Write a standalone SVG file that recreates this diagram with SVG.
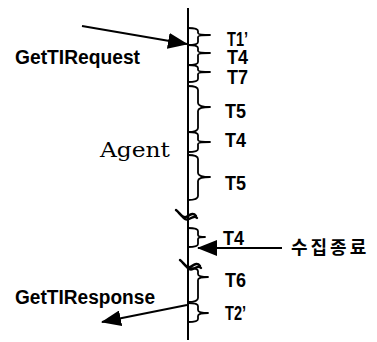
<svg xmlns="http://www.w3.org/2000/svg" width="377" height="342" viewBox="0 0 377 342">
<defs>
<style>
.ln{stroke:#000;stroke-width:2;fill:none}
.br{stroke:#000;stroke-width:1.8;fill:none;stroke-linejoin:round}
.brk{stroke:#000;stroke-width:2.4;fill:none;stroke-linecap:round}
.t{font-family:"Liberation Sans",Arial,sans-serif;font-weight:bold;font-size:20px;fill:#000}
.lbl{font-family:"Liberation Sans",Arial,sans-serif;font-weight:bold;fill:#000}
.ag{font-family:"DejaVu Serif","Liberation Serif",serif;font-size:20px;fill:#000}
.kr{font-family:"Noto Sans CJK KR",sans-serif;font-weight:bold;font-size:18px;letter-spacing:3px;fill:#000}
</style>
<marker id="ah" viewBox="0 0 20 16" refX="19" refY="8" markerWidth="20" markerHeight="16" markerUnits="userSpaceOnUse" orient="auto">
<path d="M0,0 L20,8 L0,16 Z" fill="#000"/>
</marker>
</defs>
<rect width="377" height="342" fill="#fff"/>

<g id="agent">
<line class="ln" x1="188" y1="8" x2="188" y2="340"/>
<text class="ag" x="100" y="157" textLength="70" lengthAdjust="spacingAndGlyphs">Agent</text>
<path class="brk" d="M176,210 C180,213 182,218 186,217 C190,215 193,212 196,216"/>
<path class="brk" d="M179,213 C183,217 185,221 189,219 C193,217 195,216 197,218"/>
<path class="brk" d="M180,260 C184,263 186,268 190,267 C194,265 197,262 200,266"/>
<path class="brk" d="M183,263 C187,267 189,271 193,269 C197,267 199,266 201,268"/>
</g>

<g id="t1">
<path class="br" d="M188,28 Q198,28 198,31 L198,33 Q198,35 210,35 Q198,35 198,37 L198,42 Q198,45 188,45"/>
<text class="t" x="227" y="46" textLength="21" lengthAdjust="spacingAndGlyphs">T1’</text>
</g>
<g id="t4a">
<path class="br" d="M188,45 Q198,45 198,48 L198,51 Q198,53 210,53 Q198,53 198,55 L198,62 Q198,65 188,65"/>
<text class="t" x="227" y="64" textLength="21" lengthAdjust="spacingAndGlyphs">T4</text>
</g>
<g id="t7">
<path class="br" d="M188,65 Q198,65 198,68 L198,70 Q198,72 210,72 Q198,72 198,74 L198,79 Q198,82 188,82"/>
<text class="t" x="227" y="84" textLength="21" lengthAdjust="spacingAndGlyphs">T7</text>
</g>
<g id="t5a">
<path class="br" d="M188,86 Q198,86 198,90 L198,103 Q198,107 210,107 Q198,107 198,111 L198,128 Q198,132 188,132"/>
<text class="t" x="225" y="118" textLength="21" lengthAdjust="spacingAndGlyphs">T5</text>
</g>
<g id="t4b">
<path class="br" d="M188,132 Q198,132 198,135 L198,140 Q198,142 210,142 Q198,142 198,144 L198,149 Q198,152 188,152"/>
<text class="t" x="225" y="147" textLength="21" lengthAdjust="spacingAndGlyphs">T4</text>
</g>
<g id="t5b">
<path class="br" d="M188,155 Q198,155 198,159 L198,173 Q198,177 210,177 Q198,177 198,181 L198,196 Q198,200 188,200"/>
<text class="t" x="225" y="190" textLength="21" lengthAdjust="spacingAndGlyphs">T5</text>
</g>
<g id="t4c">
<path class="br" d="M188,228 Q198,228 198,231 L198,235 Q198,237 205,237 Q198,237 198,239 L198,244 Q198,247 188,247"/>
<text class="t" x="223" y="245" textLength="21" lengthAdjust="spacingAndGlyphs">T4</text>
</g>
<g id="t6">
<path class="br" d="M188,268 Q198,268 198,271 L198,274 Q198,277 208,277 Q198,277 198,280 L198,298 Q198,302 188,302"/>
<text class="t" x="225" y="287" textLength="21" lengthAdjust="spacingAndGlyphs">T6</text>
</g>
<g id="t2">
<path class="br" d="M188,303 Q198,303 198,306 L198,310 Q198,313 208,313 Q198,313 198,316 L198,319 Q198,322 188,322"/>
<text class="t" x="225" y="320" textLength="21" lengthAdjust="spacingAndGlyphs">T2’</text>
</g>

<g id="connectors">
<line class="ln" x1="82" y1="26" x2="187" y2="44" marker-end="url(#ah)"/>
<line class="ln" x1="282" y1="248" x2="198" y2="248" marker-end="url(#ah)"/>
<line class="ln" x1="187" y1="305" x2="102" y2="322" marker-end="url(#ah)"/>
</g>

<g id="labels">
<text class="lbl" x="15" y="64" font-size="21" textLength="125" lengthAdjust="spacingAndGlyphs">GetTIRequest</text>
<text class="lbl" x="15" y="304" font-size="20" textLength="140" lengthAdjust="spacingAndGlyphs">GetTIResponse</text>
<text class="kr" x="291" y="254">수집종료</text>
</g>
</svg>
